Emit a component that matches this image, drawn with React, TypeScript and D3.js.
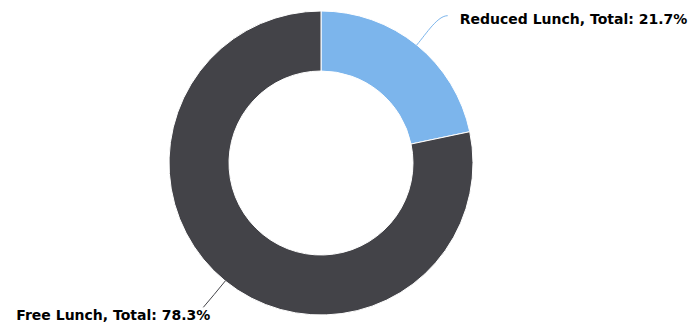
import React from "react";
import * as d3 from "d3";

const categories = ["Reduced Lunch", "Free Lunch"];
const values = [21.7, 78.3];
const colors = ["#7cb5ec", "#434348"];

const W = 691, H = 327;
const cx = 321, cy = 163, R = 152, r = 92;

export default function App() {
  const pie = d3.pie<number>().sort(null).startAngle(0).endAngle(2 * Math.PI);
  const arcs = pie(values);
  const arc = d3.arc<d3.PieArcDatum<number>>().innerRadius(r).outerRadius(R);
  const pt = (a: number, rad: number) => [Math.sin(a) * rad, -Math.cos(a) * rad];
  return (
    <svg width={W} height={H} style={{ position: "absolute", left: 0, top: 0 }}>
      <rect width={W} height={H} fill="#fff" />
      <g transform={`translate(${cx},${cy})`}>
        {arcs.map((d, i) => (
          <path key={i} d={arc(d) || ""} fill={colors[i]} stroke="#fff" strokeWidth={1} strokeLinejoin="round" />
        ))}
        {arcs.map((d, i) => {
          const mid = (d.startAngle + d.endAngle) / 2;
          const right = Math.sin(mid) > 0;
          const [sx, sy] = pt(mid, R);
          const [lx0, ly0] = pt(mid, R + 30);
          const ex = right ? lx0 + 12 : lx0 - 3;
          const ey = right ? ly0 - 6 : ly0 + 3;
          const [mx, my] = pt(mid, R + 18);
          const cx1 = right ? ex - 10 : ex + 5;
          const path = `M${sx},${sy} Q${mx},${my} ${ex},${ey}`;
          const label = `${categories[i]}, Total: ${values[i]}%`;
          return (
            <g key={"l" + i}>
              <path d={right ? `M${sx},${sy} C${sx + 10},${sy - 12} ${cx1},${ey} ${ex},${ey}` : path} fill="none" stroke={colors[i]} strokeWidth={1} />
              <text
                x={right ? ex + 12 : ex + 7}
                y={right ? ey + 8 : ey + 13}
                textAnchor={right ? "start" : "end"}
                fontFamily="DejaVu Sans, sans-serif"
                fontSize={14}
                fontWeight="bold"
                fill="#000"
                stroke="#fff"
                strokeWidth={2}
                paintOrder="stroke"
              >
                {label}
              </text>
            </g>
          );
        })}
      </g>
    </svg>
  );
}
